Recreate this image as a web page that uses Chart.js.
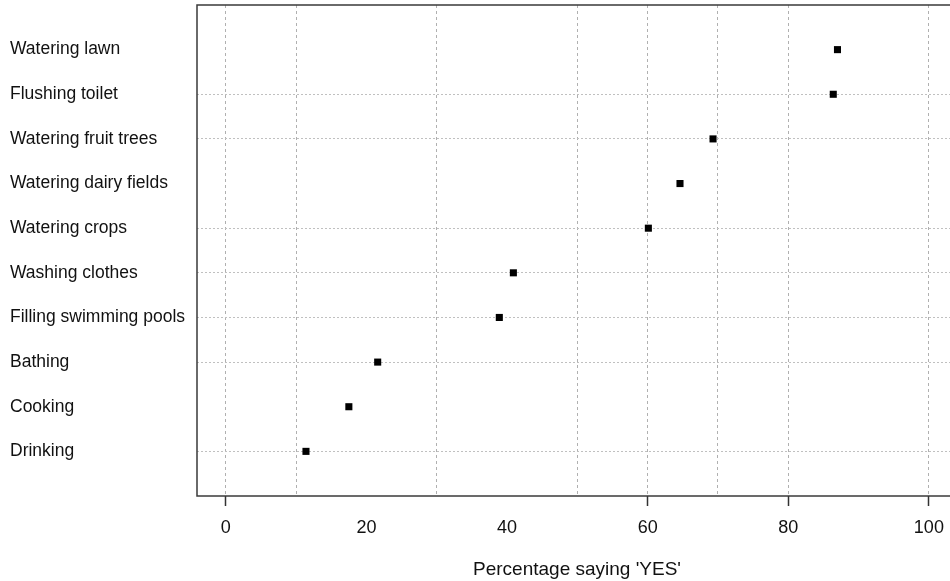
<!DOCTYPE html>
<html>
<head>
<meta charset="utf-8">
<script src="https://cdn.jsdelivr.net/npm/chart.js@4.4.1/dist/chart.umd.min.js"></script>
<style>
  html, body { margin: 0; padding: 0; background: #fff; overflow: hidden; }
  #wrap { position: absolute; left: 0; top: 0; width: 962px; height: 581px; }
</style>
</head>
<body>
<div id="wrap"><canvas id="dotChart"></canvas></div>
<script>
// categories, top to bottom
const categories = [
  'Watering lawn',
  'Flushing toilet',
  'Watering fruit trees',
  'Watering dairy fields',
  'Watering crops',
  'Washing clothes',
  'Filling swimming pools',
  'Bathing',
  'Cooking',
  'Drinking'
];
// percentage saying 'YES'
const yesPercent = [87.0, 86.4, 69.3, 64.6, 60.1, 40.9, 38.9, 21.6, 17.5, 11.4];
const xTickLabels = [0, 20, 40, 60, 80, 100];

// which lines show up in the picture
const vGridAt = [0, 10, 30, 50, 60, 70, 80, 100];
const tickMarkAt = [0, 60, 80, 100];
const hGridHidden = ['Watering lawn', 'Watering dairy fields', 'Cooking'];

const n = categories.length;
const points = categories.map((c, i) => ({ x: yesPercent[i], y: n - i }));
const FONT = "'Liberation Sans', Arial, sans-serif";

// box around the plot area
const framePlugin = {
  id: 'frame',
  beforeDatasetsDraw(chart) {
    const { ctx, chartArea: a } = chart;
    ctx.save();
    ctx.strokeStyle = '#3a3a3a';
    ctx.lineWidth = 1.5;
    ctx.strokeRect(a.left, a.top, a.right - a.left, a.bottom - a.top);
    ctx.restore();
  }
};

const ctx = document.getElementById('dotChart').getContext('2d');
const dotChart = new Chart(ctx, {
  type: 'scatter',
  data: {
    datasets: [{
      data: points,
      pointStyle: 'rect',
      pointRadius: 5,
      pointHoverRadius: 5,
      backgroundColor: '#000',
      borderColor: '#000',
      borderWidth: 0
    }]
  },
  plugins: [framePlugin],
  options: {
    responsive: true,
    maintainAspectRatio: false,
    animation: false,
    layout: { padding: { left: 10, top: 5, right: 0, bottom: 0 } },
    plugins: {
      legend: { display: false },
      tooltip: { enabled: false }
    },
    scales: {
      x: {
        type: 'linear',
        min: -4.1,
        max: 104,
        afterBuildTicks: (scale) => {
          scale.ticks = [0, 10, 20, 30, 40, 50, 60, 70, 80, 90, 100].map(v => ({ value: v }));
        },
        afterFit: (scale) => {
          scale.height = 85;
          scale.paddingLeft = 0;
          scale.paddingRight = 0;
        },
        border: { display: false, dash: [3, 3] },
        grid: {
          color: (c) => vGridAt.includes(c.tick && c.tick.value) ? '#b0b0b0' : 'rgba(0,0,0,0)',
          lineWidth: 1,
          drawTicks: true,
          tickLength: 10,
          tickBorderDash: [],
          tickWidth: 1.5,
          tickColor: (c) => tickMarkAt.includes(c.tick && c.tick.value) ? '#333' : 'rgba(0,0,0,0)'
        },
        ticks: {
          autoSkip: false,
          maxRotation: 0,
          padding: 11,
          color: '#111',
          font: { family: FONT, size: 18 },
          callback: (value) => xTickLabels.includes(value) ? String(value) : ''
        },
        title: {
          display: true,
          text: "Percentage saying 'YES'",
          color: '#111',
          padding: { top: 0, bottom: 0 },
          font: { family: FONT, size: 19 }
        }
      },
      y: {
        type: 'linear',
        min: 0,
        max: n + 1,
        afterBuildTicks: (scale) => {
          scale.ticks = categories.map((c, i) => ({ value: n - i }));
        },
        afterFit: (scale) => {
          scale.width = 187;
          scale.paddingTop = 0;
          scale.paddingBottom = 0;
        },
        border: { display: false, dash: [2, 2] },
        grid: {
          color: (c) => {
            const v = c.tick && c.tick.value;
            const name = categories[n - v];
            return name && !hGridHidden.includes(name) ? '#c0c0c0' : 'rgba(0,0,0,0)';
          },
          lineWidth: 1,
          drawTicks: false
        },
        ticks: {
          autoSkip: false,
          crossAlign: 'far',
          padding: 10,
          color: '#111',
          font: { family: FONT, size: 17.5 },
          callback: (value) => categories[n - value] || ''
        }
      }
    }
  }
});
</script>
</body>
</html>
